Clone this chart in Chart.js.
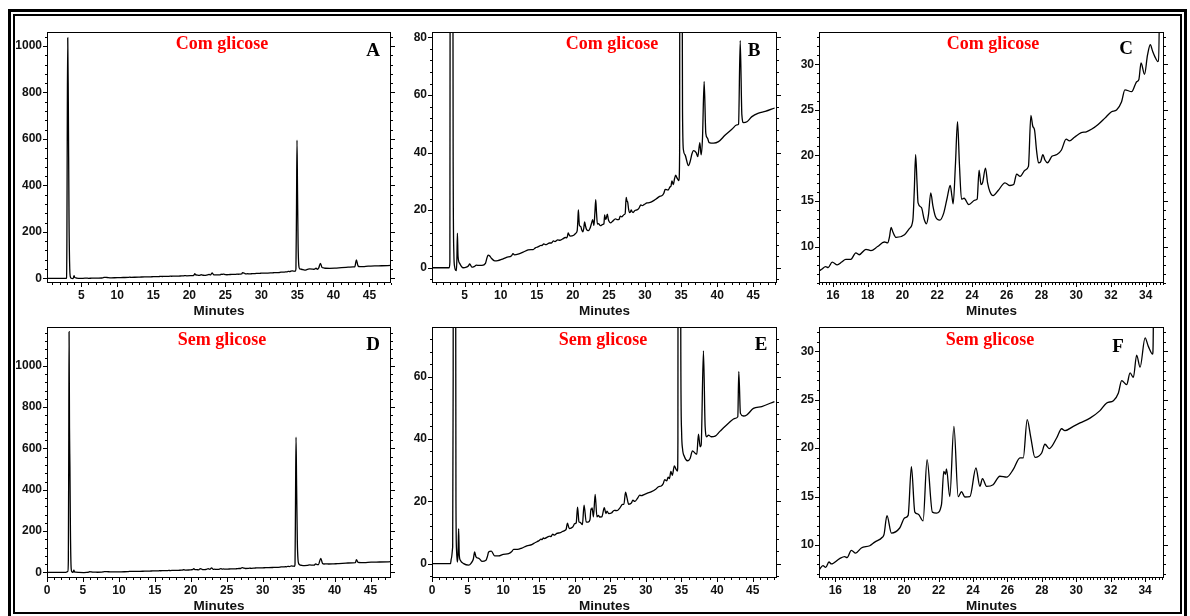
<!DOCTYPE html>
<html>
<head>
<meta charset="utf-8">
<script src="https://cdn.jsdelivr.net/npm/chart.js@4.4.1/dist/chart.umd.min.js"></script>
<style>
  html, body { margin:0; padding:0; background:#fff; width:1190px; height:616px; overflow:hidden; position:relative; }
  canvas { position:absolute; }
  .frame-outer { position:absolute; left:8px; top:9px; width:1179px; height:610px; border:3px solid #000; box-sizing:border-box; }
  .frame-inner { position:absolute; left:13px; top:14px; width:1169px; height:600px; border:2px solid #000; box-sizing:border-box; }
  .ttl { position:absolute; transform:translate(-50%,-50%); font-family:"Liberation Serif","Times New Roman",serif; font-weight:bold; font-size:18px; color:#ff0000; white-space:nowrap; }
  .lbl { position:absolute; transform:translate(-50%,-50%); font-family:"Liberation Serif","Times New Roman",serif; font-weight:bold; font-size:19px; color:#000; }
</style>
</head>
<body>
<div class="frame-outer"></div>
<div class="frame-inner"></div>
<script>
// ---------- DATA ----------
// "Com glicose" chromatogram (minutes, response)
const comTime = [0.0, 2.85, 2.95, 3.0, 3.06, 3.12, 3.2, 3.3, 3.4, 3.5, 3.6, 3.85, 3.92, 3.99, 4.08, 4.31, 4.77, 5.24, 5.5, 5.7, 6.0, 6.3, 6.63, 7.0, 7.4, 7.88, 8.1, 8.25, 8.45, 8.7, 9.17, 9.6, 10.1, 10.8, 11.5, 11.7, 11.9, 12.4, 13.1, 13.8, 14.2, 14.5, 14.8, 15.15,
  15.35, 15.58, 15.73, 15.96, 16.25, 16.5, 16.74, 17.03, 17.32, 17.51, 17.9, 18.19, 18.57, 18.96, 19.15, 19.25, 19.35, 19.45, 19.64, 20.12, 20.41, 20.6, 20.68, 20.76, 20.84, 20.9, 21.09, 21.25, 21.38, 21.5, 21.63, 21.75, 21.9, 22.15, 22.38, 22.57, 22.75, 22.85, 22.92, 23.05, 23.17, 23.28, 23.4, 23.55, 23.82, 24.17, 24.3, 24.41, 24.52, 24.61, 24.78, 24.9, 25.03, 25.22, 25.51, 25.9, 26.19, 26.4, 26.57, 26.77, 27.06, 27.25, 27.39, 27.5, 27.6, 27.72, 27.83, 27.95, 28.08, 28.2, 28.35, 28.6, 28.89, 29.15, 29.42, 29.61, 29.9, 30.29, 30.58, 30.9, 31.26, 31.65, 32.03, 32.32, 32.61, 32.8, 33.19, 33.48, 33.6, 33.73, 33.93, 34.1, 34.26, 34.4, 34.51, 34.7,
  34.8, 34.88, 34.95, 35.02, 35.1, 35.2, 35.33, 35.56, 36.02, 36.26, 36.5, 36.72, 37.09, 37.32, 37.6, 37.78, 37.97, 38.2, 38.43, 38.66, 38.89, 39.5, 40.19, 41.12, 42.04, 42.74, 42.97, 43.2, 43.43, 43.66, 44.13, 44.82, 45.75, 46.67, 47.97];
const comResp = [0, 0, 2.1, 150, 700, 1035, 760, 250, 40, 5, 0.5, -1.0, 3, 12, 4, 1.5, 0.0, 0.2, 0.6, 1.3, 0.2, 0.4, 0.9, 0.8, 0.8, 1.5, 3.5, 4.4, 4.2, 3.3, 2.4, 2.5, 2.9, 3.6, 4.2, 4.9, 4.5, 4.7, 5.4, 6.2, 6.3, 6.3, 6.9, 7.25,
  7.5, 7.8, 7.7, 8.3, 8.0, 8.3, 8.6, 8.6, 9.3, 9.1, 9.7, 9.55, 10.0, 10.5, 10.4, 11.0, 12.1, 11.6, 11.0, 11.3, 12.0, 12.9, 16.0, 20.1, 17.0, 14.8, 14.3, 13.0, 12.5, 13.5, 15.9, 14.5, 13.3, 12.9, 13.7, 15.3, 16.7, 15.5, 14.7, 19.0, 23.7, 19.0, 15.2, 15.3, 14.6, 15.1, 15.2, 18.4, 16.8, 17.0, 18.6, 17.0, 16.05, 15.6, 16.15, 17.0, 16.7, 16.8, 17.95, 17.7, 18.4, 18.8, 24.4, 23.2, 22.8, 20.5, 19.2, 19.3, 20.1, 19.5, 19.2, 19.9, 20.1, 20.6, 21.8, 21.6, 22.0, 22.5, 22.6, 22.9, 23.4, 24.1, 24.8, 25.0, 25.9, 27.2, 27.0, 28.1, 28.3, 30.15, 28.9, 31.0, 32.15, 31.4, 30.9, 30.3,
  40, 300, 595, 380, 150, 55, 40.9, 39.2, 35.5, 36.9, 39.5, 40.7, 40.0, 38.6, 43.5, 39.2, 45.0, 64.7, 46.7, 45.0, 43.5, 43.3, 43.8, 46.1, 48.1, 49.6, 49.9, 78.9, 53.1, 50.4, 50.7, 52.5, 53.7, 54.3, 55.5];

// "Sem glicose" chromatogram (minutes, response)
const semTime = [0.0, 2.6, 2.71, 2.9, 2.97, 3.03, 3.07, 3.13, 3.19, 3.26, 3.36, 3.45, 3.55, 3.65, 3.74, 3.82, 3.97, 4.44, 5.14, 5.5, 5.8, 5.98, 6.15, 6.31, 6.64, 7.0, 7.57, 7.8, 7.94, 8.32, 8.79, 9.35, 10.0, 10.75, 11.2, 11.45, 12.0, 12.6, 13.3, 14.0, 14.5, 14.95,
  15.05, 15.28, 15.44, 15.63, 15.77, 16.25, 16.54, 16.68, 16.93, 17.18, 17.51, 18.0, 18.29, 18.73, 18.83, 19.0, 19.26, 19.74, 20.03, 20.23, 20.42, 20.62, 20.81, 21.1, 21.33, 21.64, 21.88, 22.17, 22.3, 22.4, 22.46, 22.65, 22.89, 23.14, 23.33, 23.53, 23.82, 24.17, 24.4, 24.55, 24.79, 25.17, 25.56, 25.95, 26.34, 26.73, 26.92, 27.15, 27.35, 27.6, 27.99, 28.18, 28.43, 28.86, 29.15, 29.34, 29.83, 30.22, 30.8, 31.38, 31.77, 32.16, 32.45, 32.64, 32.93, 33.13, 33.32, 33.51, 33.71, 34.0, 34.19, 34.44,
  34.5, 34.57, 34.64, 34.72, 34.82, 34.92, 35.02, 35.14, 35.42, 35.84, 36.21, 36.54, 36.92, 37.15, 37.38, 37.62, 37.76, 38.08, 38.32, 38.55, 38.79, 39.16, 39.72, 40.42, 41.59, 42.52, 42.9, 43.04, 43.27, 43.69, 44.16, 45.09, 46.26, 48.04];
const semResp = [0, 0, 1.6, 5.4, 60, 650, 1165, 700, 505, 200, 20, 4, 0.5, 3, 11.25, 3, 1.1, 0, -0.5, 0.2, 1.5, 3.75, 2.3, 1.9, 1.6, 0.75, 1.1, 2.5, 3.75, 4.0, 2.5, 2.5, 3.0, 3.2, 3.9, 4.6, 4.6, 5.0, 5.7, 6.1, 6.8, 7.3,
  7.45, 7.87, 7.7, 8.25, 8.05, 8.6, 8.8, 8.7, 9.45, 9.17, 9.7, 9.93, 10.3, 10.8, 11.1, 13.03, 11.24, 11.76, 12.8, 13.06, 18.1, 13.4, 13.2, 12.5, 18.8, 13.4, 13.3, 14.2, 17.6, 17.3, 17.85, 15.0, 22.25, 15.0, 15.5, 14.96, 15.0, 17.95, 16.06, 16.85, 16.06, 16.23, 17.1, 17.0, 17.8, 19.0, 19.0, 22.95, 21.2, 19.05, 19.5, 20.4, 19.95, 21.05, 22.0, 21.8, 22.25, 22.6, 23.1, 23.87, 24.66, 24.9, 25.7, 26.97, 26.56, 27.76, 27.3, 29.6, 28.35, 31.38, 30.5, 29.7,
  40, 350, 655, 420, 150, 60, 42, 37, 34.3, 33.0, 33.75, 36.2, 35.4, 35.1, 41.5, 37.5, 38, 68.25, 43.9, 40.7, 41.25, 40.7, 40.9, 42.5, 45.0, 46.6, 47.1, 61.6, 48.2, 47.35, 47.7, 49.8, 50.4, 52.0];

// Tick labels
const xTicksFull = [5, 10, 15, 20, 25, 30, 35, 40, 45];
const xTicksFull0 = [0, 5, 10, 15, 20, 25, 30, 35, 40, 45];
const xTicksZoom = [16, 18, 20, 22, 24, 26, 28, 30, 32, 34];
const yTicksLarge = [0, 200, 400, 600, 800, 1000];
const yTicksB = [0, 20, 40, 60, 80];
const yTicksE = [0, 20, 40, 60];
const yTicksZoom = [10, 15, 20, 25, 30];

// Panel texts
const titleCom = "Com glicose";
const titleSem = "Sem glicose";
const axisTitle = "Minutes";

// ---------- RENDER ----------
const comPts = comTime.map((t, i) => ({x: t, y: comResp[i]}));
const semPts = semTime.map((t, i) => ({x: t, y: semResp[i]}));

const panels = [
  {id:'A', L:47,  T:32,  R:391,  B:283, pts:comPts, xr:[0.24,48.0], yr:[-20,1060],  xt:xTicksFull,  yt:yTicksLarge, xm:1,   xM:5, ym:40, yM:200, title:titleCom, tx:222, ty:43, lx:373, ly:50},
  {id:'B', L:432, T:32,  R:777,  B:283, pts:comPts, xr:[0.47,48.3], yr:[-5.3,81.9], xt:xTicksFull,  yt:yTicksB,     xm:1,   xM:5, ym:4,  yM:20,  title:titleCom, tx:612, ty:43, lx:754, ly:50},
  {id:'C', L:819, T:32,  R:1164, B:283, pts:comPts, xr:[15.2,35.05],yr:[6.0,33.55], xt:xTicksZoom,  yt:yTicksZoom,  xm:0.2, xM:2, ym:1,  yM:5,   title:titleCom, tx:993, ty:43, lx:1126, ly:48},
  {id:'D', L:47,  T:327, R:391,  B:578, pts:semPts, xr:[0,47.85],   yr:[-27,1188],  xt:xTicksFull0, yt:yTicksLarge, xm:1,   xM:5, ym:40, yM:200, title:titleSem, tx:222, ty:339, lx:373, ly:344},
  {id:'E', L:432, T:327, R:777,  B:578, pts:semPts, xr:[0,48.4],    yr:[-4.6,75.9], xt:xTicksFull0, yt:yTicksE,     xm:1,   xM:5, ym:4,  yM:20,  title:titleSem, tx:603, ty:339, lx:761, ly:344},
  {id:'F', L:819, T:327, R:1164, B:578, pts:semPts, xr:[15.05,35.1],yr:[6.6,32.5],  xt:xTicksZoom,  yt:yTicksZoom,  xm:0.2, xM:2, ym:1,  yM:5,   title:titleSem, tx:990, ty:339, lx:1118, ly:346}
];

const PADL = 46, PADT = 6, PADR = 12, XH = 40;

const tickPlugin = {
  id: 'frameTicks',
  afterDatasetsDraw(chart) {
    const p = chart.options.plugins.frameTicks;
    const {ctx, chartArea: a, scales: {x, y}} = chart;
    ctx.save();
    ctx.strokeStyle = '#000';
    ctx.lineWidth = 1;
    ctx.strokeRect(Math.round(a.left) + 0.5, Math.round(a.top) + 0.5, Math.round(a.right - a.left) - 1, Math.round(a.bottom - a.top) - 1);
    ctx.beginPath();
    const isMajor = (v, M) => Math.abs(v / M - Math.round(v / M)) < 1e-6;
    for (let k = Math.ceil(x.min / p.xm - 1e-9); k * p.xm <= x.max + 1e-9; k++) {
      const v = k * p.xm;
      const px = Math.round(x.getPixelForValue(v)) + 0.5;
      const len = isMajor(v, p.xM) ? 4 : 2;
      ctx.moveTo(px, a.bottom);
      ctx.lineTo(px, a.bottom + len);
    }
    for (let k = Math.ceil(y.min / p.ym - 1e-9); k * p.ym <= y.max + 1e-9; k++) {
      const v = k * p.ym;
      const py = Math.round(y.getPixelForValue(v)) + 0.5;
      const len = isMajor(v, p.yM) ? 4 : 2;
      ctx.moveTo(a.left, py);
      ctx.lineTo(a.left - len, py);
      ctx.moveTo(a.right, py);
      ctx.lineTo(a.right + len, py);
    }
    ctx.stroke();
    ctx.restore();
  }
};

const labelFont = {family: '"Liberation Sans", Arial, sans-serif', size: 12, weight: 'bold'};

panels.forEach(pn => {
  const cv = document.createElement('canvas');
  const w = (pn.R - pn.L) + PADL + PADR;
  const h = (pn.B - pn.T) + PADT + XH;
  cv.width = w; cv.height = h;
  cv.style.left = (pn.L - PADL) + 'px';
  cv.style.top = (pn.T - PADT) + 'px';
  cv.style.width = w + 'px'; cv.style.height = h + 'px';
  document.body.appendChild(cv);

  new Chart(cv, {
    type: 'line',
    data: { datasets: [{ data: pn.pts, borderColor: '#000', borderWidth: 1.3, pointRadius: 0, cubicInterpolationMode: 'monotone', fill: false }] },
    options: {
      responsive: false, animation: false, devicePixelRatio: 1,
      layout: { padding: {left: 0, top: PADT, right: PADR, bottom: 0} },
      plugins: { legend: {display: false}, tooltip: {enabled: false},
                 frameTicks: {xm: pn.xm, xM: pn.xM, ym: pn.ym, yM: pn.yM} },
      scales: {
        x: {
          type: 'linear', min: pn.xr[0], max: pn.xr[1],
          grid: {display: false, drawTicks: false}, border: {display: false},
          afterBuildTicks: s => { s.ticks = pn.xt.map(v => ({value: v})); },
          ticks: {color: '#111', font: labelFont, padding: 5, maxRotation: 0, autoSkip: false, callback: v => String(v)},
          title: {display: true, text: axisTitle, color: '#111', font: {family: '"Liberation Sans", Arial, sans-serif', size: 13.5, weight: 'bold'}, padding: {top: 0, bottom: 4}},
          afterFit: s => { s.height = XH; s.paddingLeft = 0; s.paddingRight = 0; }
        },
        y: {
          type: 'linear', min: pn.yr[0], max: pn.yr[1],
          grid: {display: false, drawTicks: false}, border: {display: false},
          afterBuildTicks: s => { s.ticks = pn.yt.map(v => ({value: v})); },
          ticks: {color: '#111', font: labelFont, padding: 5, autoSkip: false, callback: v => String(v)},
          afterFit: s => { s.width = PADL; s.paddingTop = 0; s.paddingBottom = 0; }
        }
      }
    },
    plugins: [tickPlugin]
  });

  const t = document.createElement('div');
  t.className = 'ttl'; t.textContent = pn.title;
  t.style.left = pn.tx + 'px'; t.style.top = pn.ty + 'px';
  document.body.appendChild(t);
  const l = document.createElement('div');
  l.className = 'lbl'; l.textContent = pn.id;
  l.style.left = pn.lx + 'px'; l.style.top = pn.ly + 'px';
  document.body.appendChild(l);
});
</script>
</body>
</html>
